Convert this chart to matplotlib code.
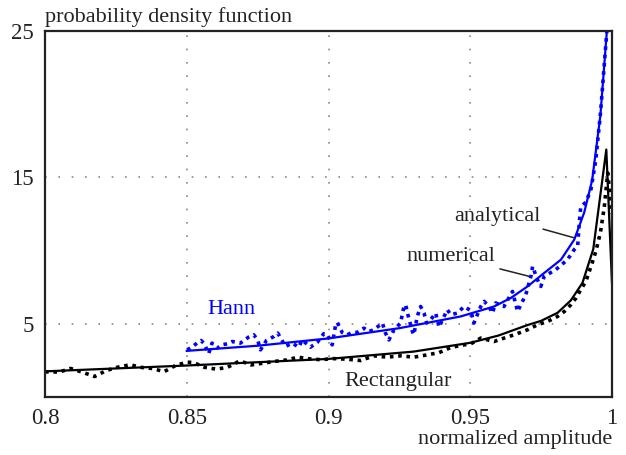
import matplotlib
matplotlib.use("Agg")
import matplotlib.pyplot as plt

# === DATA ===
# Rectangular window, analytical
rect_ana_x = [0.800, 0.850, 0.900, 0.930, 0.950, 0.960, 0.970, 0.975, 0.9808,
              0.9855, 0.9896, 0.9934, 0.9980, 1.000]
rect_ana_y = [1.75, 2.15, 2.6, 3.1, 3.7, 4.2, 4.9, 5.2, 5.75,
              6.6, 7.8, 10.1, 16.9, 7.8]

# Rectangular window, numerical
rect_num_x = [0.800, 0.805, 0.809, 0.8135, 0.8175, 0.8215, 0.8255, 0.830, 0.834,
              0.838, 0.842, 0.846, 0.850, 0.8524, 0.8562, 0.8604, 0.8644, 0.8687,
              0.8727, 0.8766, 0.8807, 0.8852, 0.8892, 0.8934, 0.8972, 0.9019,
              0.9066, 0.9113, 0.9160, 0.9207, 0.9254, 0.9301, 0.9349, 0.9390,
              0.9431, 0.9478, 0.9502, 0.9537, 0.9584, 0.9619, 0.9655, 0.9702,
              0.9737, 0.9773, 0.9808, 0.9832, 0.9855, 0.9873, 0.9890, 0.9908,
              0.9920, 0.9932, 0.9943, 0.9959, 0.9973, 0.9985, 1.000]
rect_num_y = [1.72, 1.70, 1.95, 1.67, 1.40, 1.80, 2.03, 2.20, 2.02,
              1.94, 1.73, 2.15, 2.38, 2.35, 2.03, 1.90, 2.03, 2.47,
              2.19, 2.30, 2.42, 2.53, 2.72, 2.60, 2.55, 2.62,
              2.58, 2.49, 2.81, 2.72, 2.81, 2.72, 2.88, 3.03,
              3.38, 3.56, 3.63, 4.02, 3.79, 4.02, 4.25, 4.59,
              4.93, 5.16, 5.50, 5.84, 6.30, 6.76, 7.33, 7.90,
              8.58, 9.27, 9.95, 11.2, 13.0, 15.3, 12.5]

# Hann window, analytical
hann_ana_x = [0.850, 0.875, 0.900, 0.925, 0.9466, 0.9525, 0.9584, 0.9643, 0.9702,
              0.9761, 0.9820, 0.9867, 0.9902, 0.9930, 0.9959, 0.9982]
hann_ana_y = [3.15, 3.5, 4.0, 4.7, 5.5, 5.84, 6.18, 6.76, 7.55,
              8.47, 9.38, 10.75, 12.6, 14.8, 19.2, 25.0]

# Hann window, numerical
hann_num_x = [0.8501, 0.8518, 0.8536, 0.8550, 0.8562, 0.8577, 0.8589, 0.8607, 0.8624,
              0.8642, 0.8660, 0.8689, 0.8718, 0.8736, 0.8750, 0.8760, 0.8781, 0.8807,
              0.8821, 0.8848, 0.8872, 0.8895, 0.8907, 0.8936, 0.8960, 0.8983, 0.8995,
              0.9013, 0.9025, 0.9031, 0.9048, 0.9066, 0.9084, 0.9101, 0.9125, 0.9142,
              0.9160, 0.9190, 0.9201, 0.9213, 0.9231, 0.9254, 0.9266, 0.9272, 0.9280,
              0.9296, 0.9301, 0.9313, 0.9325, 0.9337, 0.9346, 0.9360, 0.9378, 0.9390,
              0.9402, 0.9419, 0.9431, 0.9455, 0.9478, 0.9502, 0.9513, 0.9537, 0.9549,
              0.9566, 0.9578, 0.9590, 0.9619, 0.9649, 0.9667, 0.9696, 0.9714, 0.9720,
              0.9737, 0.9749, 0.9761, 0.9802, 0.9843, 0.9867, 0.9879, 0.9885, 0.9890,
              0.9908, 0.9926, 0.9943, 0.9960, 0.9982]
hann_num_y = [3.22, 3.40, 3.68, 3.86, 3.63, 2.95, 3.68, 3.34, 3.56,
              3.63, 3.79, 3.68, 4.09, 4.25, 3.90, 3.22, 3.86, 4.13,
              4.36, 3.45, 3.68, 3.40, 3.90, 3.40, 3.72, 4.32, 4.30,
              3.56, 4.93, 5.09, 4.41, 4.25, 4.41, 4.41, 4.70, 4.47,
              4.59, 5.05, 4.36, 3.90, 4.59, 5.05, 6.18, 6.30, 5.62,
              4.47, 4.25, 5.50, 6.18, 5.73, 5.05, 5.27, 5.73, 4.77,
              5.27, 5.96, 5.62, 5.73, 6.18, 5.90, 5.05, 6.18, 6.53,
              6.18, 5.73, 6.42, 6.18, 7.21, 5.84, 6.99, 8.24, 8.92,
              8.01, 7.55, 8.24, 8.70, 9.38, 10.07, 10.3, 12.0, 13.0,
              13.3, 14.2, 16.2, 19.5, 25.0]

x_ticks = [0.8, 0.85, 0.9, 0.95, 1.0]
x_tick_labels = ["0.8", "0.85", "0.9", "0.95", "1"]
y_ticks = [5, 15, 25]

# === STYLE ===
plt.rcParams["font.family"] = ["Liberation Serif", "DejaVu Serif"]
text_color = "#222222"
blue = "#0000ff"
fs = 16
dotted = (0, (1, 1.3))

fig = plt.figure(figsize=(6.26, 4.55), dpi=100)
ax = fig.add_axes([0.072, 0.1275, 0.9056, 0.8045])

# grid lines only inside the box
for gx in [0.85, 0.9, 0.95]:
    ax.axvline(gx, color="#888888", lw=1.2, ls=(0, (1, 7)), zorder=0)
for gy in [5, 15]:
    ax.axhline(gy, color="#888888", lw=1.2, ls=(0, (1, 7)), zorder=0)

ax.plot(rect_num_x, rect_num_y, color="black", lw=2.6, ls=dotted)
ax.plot(rect_ana_x, rect_ana_y, color="black", lw=1.6)
ax.plot(hann_num_x, hann_num_y, color=blue, lw=2.6, ls=dotted)
ax.plot(hann_ana_x, hann_ana_y, color=blue, lw=1.6)

ax.set_xlim(0.8, 1.0)
ax.set_ylim(0, 25)
ax.set_xticks(x_ticks)
ax.set_xticklabels(x_tick_labels)
ax.set_yticks(y_ticks)
ax.tick_params(length=0, labelsize=fs + 0.5, labelcolor=text_color, pad=8)
for s in ax.spines.values():
    s.set_linewidth(1.6)
    s.set_color("#222222")

# labels
fig.text(0.072, 0.952, "probability density function", fontsize=fs,
         color=text_color, ha="left", va="baseline")
fig.text(0.978, 0.025, "normalized amplitude", fontsize=fs,
         color=text_color, ha="right", va="baseline")

ax.text(0.8657, 6.0, "Hann", fontsize=fs, color=blue, ha="center", va="center")
ax.text(0.9247, 1.05, "Rectangular", fontsize=fs, color=text_color,
        ha="center", va="center")
ax.annotate("analytical", xy=(0.9867, 10.87), xytext=(0.9749, 12.33),
            fontsize=fs, color=text_color, ha="right", va="center",
            arrowprops=dict(arrowstyle="-", color="#222222", lw=1.1,
                            shrinkA=1, shrinkB=0))
ax.annotate("numerical", xy=(0.9708, 8.24), xytext=(0.9590, 9.59),
            fontsize=fs, color=text_color, ha="right", va="center",
            arrowprops=dict(arrowstyle="-", color="#222222", lw=1.1,
                            shrinkA=1, shrinkB=0))

fig.savefig("out.png", dpi=100)
